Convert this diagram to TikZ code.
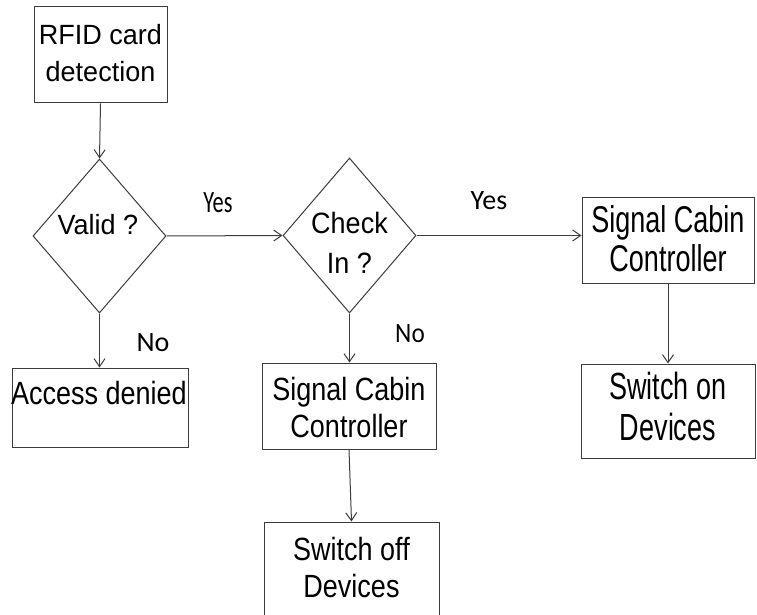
\documentclass[tikz,border=0pt]{standalone}
\usepackage{fontspec}
\setmainfont{Liberation Sans}
\newfontfamily\labfont{Carlito}
\usetikzlibrary{shapes.geometric,arrows.meta}
\definecolor{linec}{RGB}{60,60,60}
\newcommand\boxtxt[3]{\scalebox{1}[#1]{\vbox{\fontsize{27}{#2}\selectfont\tabskip=0pt\halign{\hfil##\hfil\cr#3\cr}}}}
\tikzset{
  box/.style={draw=linec, line width=1pt, rectangle, inner sep=0pt},
  decision/.style={draw=linec, line width=1pt, diamond, inner sep=0pt, minimum width=133pt, minimum height=154pt},
  txt/.style={inner sep=0pt, outer sep=0pt, text=black},
  lab/.style={inner sep=0pt, outer sep=0pt, text=black, font=\labfont\fontsize{28}{30}\selectfont},
  arr/.style={draw=linec, line width=1pt, -{Straight Barb[length=8pt,width=11pt]}}
}
\begin{document}
\begin{tikzpicture}[x=1pt,y=-1pt]
\useasboundingbox (0,0) rectangle (757,615);
\clip (0,0) rectangle (757,615);
\fill[white] (0,0) rectangle (757,615);
% boxes
\node[box, minimum width=133pt, minimum height=96pt] (rfid) at (100.5,55) {};
\node[decision] (valid) at (99.5,236) {};
\node[decision, minimum height=155pt] (check) at (349.5,235.5) {};
\node[box, minimum width=172pt, minimum height=86pt] (rscc) at (668,240) {};
\node[box, minimum width=174pt, minimum height=94pt] (swon) at (668,411) {};
\node[box, minimum width=176pt, minimum height=79pt] (access) at (100,407.5) {};
\node[box, minimum width=174pt, minimum height=86pt] (mscc) at (349,406) {};
\node[box, minimum width=175pt, minimum height=116pt] (swoff) at (351.5,580) {};
% texts
\node[txt] (trfid) at (100.5,53.5) {\boxtxt{1.03}{35.9}{RFID card\cr detection}};
\node[txt] (tvalid) at (98,225) {\boxtxt{1.03}{35}{Valid ?}};
\node[txt] (tcheck) at (349.5,242.5) {\boxtxt{1.09}{36.7}{Check\cr In ?}};
\node[txt] (trscc) at (668,239) {\boxtxt{1.38}{28.3}{Signal Cabin\cr Controller}};
\node[txt] (tswon) at (668,406.5) {\boxtxt{1.4}{28.6}{Switch on\cr Devices}};
\node[txt] (taccess) at (99,393.5) {\boxtxt{1.19}{32}{Access denied}};
\node[txt] (tmscc) at (349,407.5) {\boxtxt{1.19}{31.9}{Signal Cabin\cr Controller}};
\node[txt] (tswoff) at (351.5,567.5) {\boxtxt{1.19}{31.9}{Switch off\cr Devices}};
% connectors
\draw[arr] (rfid.south) -- (valid.north);
\draw[arr] (valid.east) -- (check.west);
\draw[arr] (check.east) -- (check.east -| rscc.west);
\draw[arr] (rscc.south) -- (swon.north);
\draw[arr] (valid.south) -- (valid.south |- access.north);
\draw[arr] (check.south) -- (check.south |- mscc.north);
\draw[arr] (mscc.south) -- (swoff.north);
% labels
\node[lab] (yes1) at (218,203) {\scalebox{0.72}[1]{\fontsize{31}{33}\selectfont Yes}};
\node[lab] (yes2) at (489,201) {Yes};
\node[lab] (no1) at (153,342.5) {No};
\node[lab] (no2) at (410,334) {\scalebox{0.9}[1]{No}};
\end{tikzpicture}
\end{document}
